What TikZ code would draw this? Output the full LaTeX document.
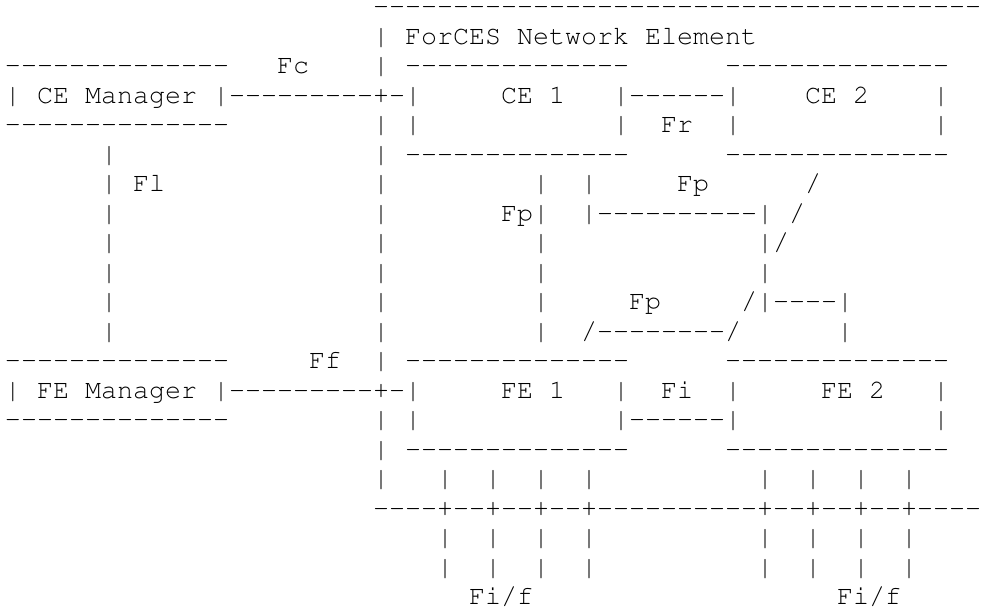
\documentclass[tikz,border=0pt]{standalone}
\usepackage[T1]{fontenc}
\usepackage{courier}
\usepackage{tikz}

\newcommand{\dsh}[1]{\foreach \k in {1,...,#1}{-}}
\tikzset{
  ascii/.style={anchor=base west, inner sep=0pt, outer sep=0pt,
    font=\ttfamily\fontsize{26.67pt}{29.5pt}\selectfont},
}

\begin{document}
\begin{tikzpicture}[x=16pt, y=-29.5pt]
    \useasboundingbox (-5pt,14.5pt) rectangle (979pt,-593.5pt);
    \foreach \c/\r/\t [count=\i] in
      {23/0/\dsh{38},
       23/1/|, 25/1/ForCES Network Element,
       0/2/\dsh{14}, 17/2/Fc, 23/2/|, 25/2/\dsh{14}, 45/2/\dsh{14},
       0/3/| CE Manager |\dsh{9}+-|, 31/3/CE 1, 38/3/|\dsh{6}|, 50/3/CE 2, 58/3/|,
       0/4/\dsh{14}, 23/4/| |, 38/4/|, 41/4/Fr, 45/4/|, 58/4/|,
       6/5/|, 23/5/| \dsh{14}, 45/5/\dsh{14},
       6/6/| Fl, 23/6/|, 33/6/|, 36/6/|, 42/6/Fp, 50/6/{/},
       6/7/|, 23/7/|, 31/7/Fp|, 36/7/|\dsh{10}|, 49/7/{/},
       6/8/|, 23/8/|, 33/8/|, 47/8/{|/},
       6/9/|, 23/9/|, 33/9/|, 47/9/|,
       6/10/|, 23/10/|, 33/10/|, 39/10/Fp, 46/10/{/|\dsh{4}|},
       6/11/|, 23/11/|, 33/11/|, 36/11/{/\dsh{8}/}, 52/11/|,
       0/12/\dsh{14}, 19/12/Ff, 23/12/|, 25/12/\dsh{14}, 45/12/\dsh{14},
       0/13/| FE Manager |\dsh{9}+-|, 31/13/FE 1, 38/13/|, 41/13/Fi, 45/13/|, 51/13/FE 2, 58/13/|,
       0/14/\dsh{14}, 23/14/| |, 38/14/|\dsh{6}|, 58/14/|,
       23/15/| \dsh{14}, 45/15/\dsh{14},
       23/16/|,
       23/17/\dsh{4}+\dsh{2}+\dsh{2}+\dsh{2}+\dsh{10}+\dsh{2}+\dsh{2}+\dsh{2}+\dsh{4},
       29/20/{Fi/f}, 52/20/{Fi/f}} {
      \node[ascii] (t\i) at (\c,\r) {\t};
    }
    \foreach \r in {16,18,19} {
      \foreach \c in {27,30,33,36,47,50,53,56} {
        \node[ascii] (p\r-\c) at (\c,\r) {|};
      }
    }
  \end{tikzpicture}
\end{document}
